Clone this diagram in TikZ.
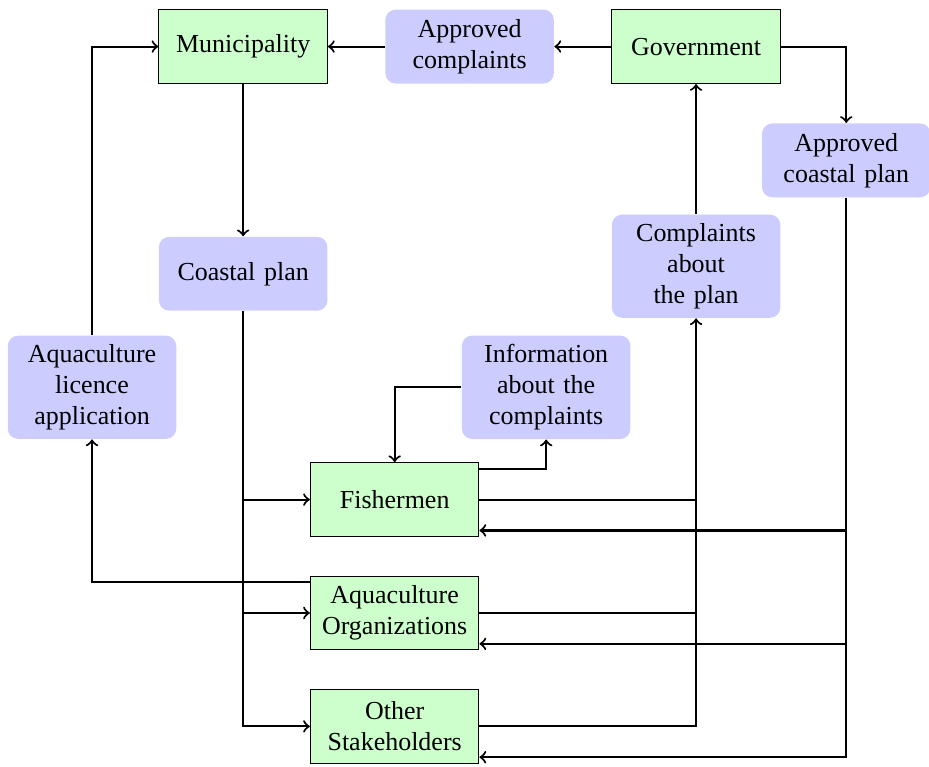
\documentclass[tikz,border=0pt]{standalone}
\usepackage{fontspec}
\setmainfont{Liberation Serif}
\usetikzlibrary{positioning}

\begin{document}
\begin{tikzpicture}[
				node distance=0.77cm,
				box/.style={rectangle,minimum width=2.28cm,minimum height=1cm,text width=2cm,align=center},
				actor/.style={draw,fill=green!20},
				doc/.style={fill=blue!20,rounded corners},
				arr/.style={->,thick},
				link/.style={thick}
				]
				\useasboundingbox (0,0) rectangle (12.57,-10.365);
				
				% Top row
				\node[box,actor] (mun) at (3.29,-0.63) {Municipality};
				\node[box,doc,right=of mun] (appc) {Approved complaints};
				\node[box,actor,right=of appc] (gov) {Government};
				\node[box,doc] (acp) at (11.45,-2.17) {Approved coastal plan};
				
				% Documents
				\node[box,doc,below=2.06cm of mun] (cp) {Coastal plan};
				\node[box,doc,below=1.76cm of gov] (cap) {Complaints about the plan};
				\node[box,doc] (lic) at (1.245,-5.24) {Aquaculture licence application};
				\node[box,doc] (info) at (7.39,-5.24) {Information about the complaints};
				
				% Stakeholders
				\node[box,actor] (fm) at (5.34,-6.76) {Fishermen};
				\node[box,actor,below=0.52cm of fm] (ao) {Aquaculture Organizations};
				\node[box,actor,below=0.52cm of ao] (os) {Other Stakeholders};
				
				\draw[arr] (appc) -- (mun);
				\draw[arr] (gov) -- (appc);
				\draw[arr] (gov) -| (acp);
				\draw[arr] (mun) -- (cp);
				\draw[arr] (cap) -- (gov);
				
				\draw[arr] (cp) |- (fm);
				\draw[arr] (cp) |- (ao);
				\draw[arr] (cp) |- (os);
				
				\draw[arr] (ao.160) -| (lic);
				\draw[arr] (lic) |- (mun);
				
				\draw[arr] (fm.20) -| (info);
				\draw[arr] (info) -| (fm);
				
				\draw[link] (fm) -- (fm -| cap);
				\draw[link] (ao) -- (ao -| cap);
				\draw[arr] (os) -| (cap);
				
				\draw[arr] (acp) |- (fm.-20);
				\draw[arr] (acp) |- (ao.-20);
				\draw[arr] (acp) |- (os.-20);
				
			\end{tikzpicture}
\end{document}
